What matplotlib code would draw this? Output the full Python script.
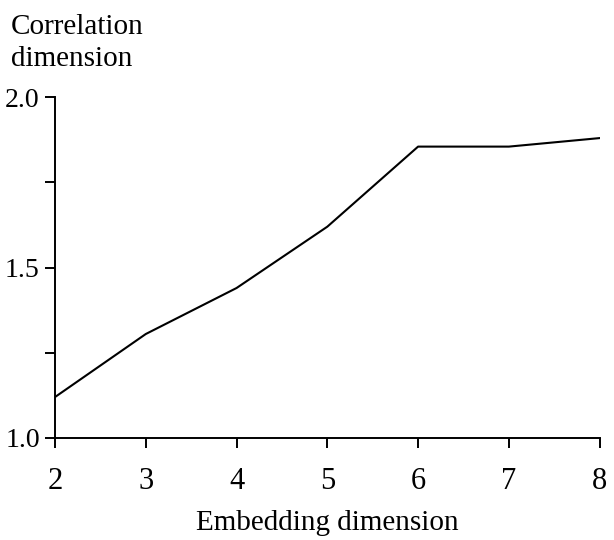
import matplotlib.pyplot as plt
from matplotlib.ticker import MultipleLocator

# embedding dimension vs correlation dimension
emb_dim = [2, 3, 4, 5, 6, 7, 8]
corr_dim = [1.12, 1.305, 1.44, 1.62, 1.855, 1.855, 1.88]

y_ticks = [1.0, 1.5, 2.0]
y_labels = ["1.0", "1.5", "2.0"]

plt.rcParams['font.family'] = ['Liberation Serif', 'DejaVu Serif']

fig = plt.figure(figsize=(6.14, 5.40), dpi=100)
ax = fig.add_axes([0.0896, 0.189, 0.887, 0.631])

ax.plot(emb_dim, corr_dim, color='black', lw=1.5)

ax.set_xlim(2, 8)
ax.set_ylim(1.0, 2.0)
ax.set_xticks(emb_dim)
ax.set_yticks(y_ticks)
ax.set_yticklabels(y_labels)
ax.yaxis.set_minor_locator(MultipleLocator(0.25))

for s in ['top', 'right']:
    ax.spines[s].set_visible(False)
for s in ['left', 'bottom']:
    ax.spines[s].set_linewidth(1.4)

ax.tick_params(axis='both', which='both', direction='out', length=7, width=1.4, labelsize=22)
ax.tick_params(axis='x', pad=14)
ax.tick_params(axis='y', pad=4, labelsize=20)

ax.set_xlabel("Embedding dimension", fontsize=21, labelpad=10)
fig.text(0.018, 0.975, "Correlation\ndimension", fontsize=21, va='top', ha='left', linespacing=1.3)

fig.savefig("out.png", dpi=100)
